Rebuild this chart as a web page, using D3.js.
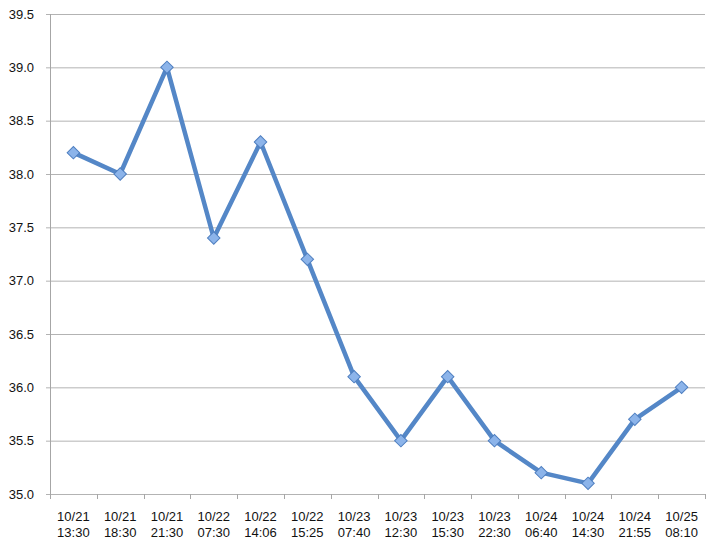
<!DOCTYPE html>
<html><head><meta charset="utf-8">
<script src="https://cdn.jsdelivr.net/npm/d3@7"></script>
<style>body{margin:0;background:#fff;} svg{display:block;}</style>
</head><body>
<div id="chart"></div>
<script>
const dates = ["10/21","10/21","10/21","10/22","10/22","10/22","10/23","10/23","10/23","10/23","10/24","10/24","10/24","10/25"];
const times = ["13:30","18:30","21:30","07:30","14:06","15:25","07:40","12:30","15:30","22:30","06:40","14:30","21:55","08:10"];
const values = [38.2,38.0,39.0,37.4,38.3,37.2,36.1,35.5,36.1,35.5,35.2,35.1,35.7,36.0];
const yTicks = [35.0,35.5,36.0,36.5,37.0,37.5,38.0,38.5,39.0,39.5];

const W = 719, H = 548;
const m = {left: 50, right: 14, top: 14, bottom: 54};
const svg = d3.select("#chart").append("svg").attr("width", W).attr("height", H);
const font = "'Liberation Sans',Arial,sans-serif";

const idx = d3.range(values.length);
const x = d3.scaleBand().domain(idx).range([m.left, W - m.right]);
const y = d3.scaleLinear().domain([35, 39.5]).range([H - m.bottom, m.top]);

// gridlines
svg.append("g").selectAll("line").data(yTicks).join("line")
  .attr("x1", m.left - 4).attr("x2", W - m.right)
  .attr("y1", d => y(d) + 0.5).attr("y2", d => y(d) + 0.5)
  .attr("stroke", "#b3b3b3").attr("stroke-width", 1);

// y labels
svg.append("g").selectAll("text").data(yTicks).join("text")
  .attr("x", 34).attr("y", d => y(d)).attr("dy", "0.35em")
  .attr("text-anchor", "end")
  .attr("font-family", font).attr("font-size", 13).attr("fill", "#111")
  .text(d => d.toFixed(1));

// left axis
svg.append("line").attr("x1", m.left + 0.5).attr("x2", m.left + 0.5)
  .attr("y1", y(39.5)).attr("y2", y(35) + 0.5)
  .attr("stroke", "#a6a6a6").attr("stroke-width", 1);

// x ticks
const xt = idx.map(i => x(i)).concat([W - m.right]);
svg.append("g").selectAll("line").data(xt).join("line")
  .attr("x1", d => Math.round(d) + 0.5).attr("x2", d => Math.round(d) + 0.5)
  .attr("y1", y(35)).attr("y2", y(35) + 5)
  .attr("stroke", "#a6a6a6");

// x labels (two separate lines)
const cx = i => x(i) + x.bandwidth() / 2;
svg.append("g").selectAll("text").data(idx).join("text")
  .attr("x", cx).attr("y", 521).attr("text-anchor", "middle")
  .attr("font-family", font).attr("font-size", 13).attr("fill", "#111")
  .text(i => dates[i]);
svg.append("g").selectAll("text").data(idx).join("text")
  .attr("x", cx).attr("y", 537).attr("text-anchor", "middle")
  .attr("font-family", font).attr("font-size", 13).attr("fill", "#111")
  .text(i => times[i]);

// line
const line = d3.line().x((d, i) => cx(i)).y(d => y(d));
svg.append("path").datum(values).attr("d", line)
  .attr("fill", "none").attr("stroke", "#5487c7").attr("stroke-width", 4.5)
  .attr("stroke-linejoin", "round");

// markers
svg.append("g").selectAll("path").data(values).join("path")
  .attr("transform", (d, i) => `translate(${cx(i)},${y(d)}) rotate(45)`)
  .attr("d", d3.symbol().type(d3.symbolSquare).size(78))
  .attr("fill", "#8cb4ea").attr("stroke", "#4f7fc0").attr("stroke-width", 1);
</script>
</body></html>
